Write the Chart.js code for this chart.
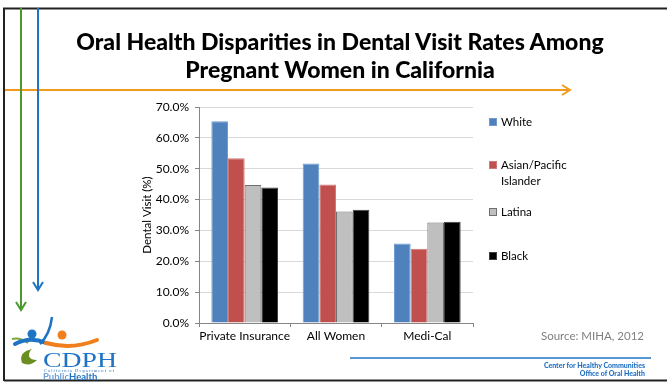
<!DOCTYPE html>
<html>
<head>
<meta charset="utf-8">
<script src="https://cdn.jsdelivr.net/npm/chart.js@4.4.1/dist/chart.umd.min.js"></script>
<style>
  html, body { margin: 0; padding: 0; background: #fff; }
  #slide { position: relative; width: 667px; height: 382px; overflow: hidden; font-family: Lato, "Open Sans", sans-serif; }
  #chart { position: absolute; left: 0; top: 0; }
  #title { position: absolute; left: 30px; width: 620px; top: 27px; text-align: center; font-weight: 900; font-size: 23px; line-height: 28px; color: #000; }
  #legend { position: absolute; left: 489px; top: 0; font-size: 11.5px; color: #000; }
  .leg { position: absolute; width: 110px; line-height: 16px; padding-left: 12px; }
  .leg i { position: absolute; left: 0; top: 4px; width: 8px; height: 8px; box-sizing: border-box; }
  #source { position: absolute; right: 23px; top: 329px; font-size: 11.5px; color: #808080; }
  #footer { position: absolute; right: 22px; top: 361px; font-size: 7px; font-weight: 900; color: #1f6fc1; text-align: right; line-height: 8px; }
  svg { position: absolute; left: 0; top: 0; }
</style>
</head>
<body>
<div id="slide">
  <canvas id="chart" width="667" height="382"></canvas>
  <svg width="667" height="382">
    <path d="M4 381 L4 8.5 L672 8.5" fill="none" stroke="#222" stroke-width="2"/>
    <line x1="4" y1="380.5" x2="672" y2="380.5" stroke="#222" stroke-width="2"/>
    <line x1="5" y1="90" x2="568" y2="90" stroke="#f39a1c" stroke-width="2"/>
    <polyline points="562,85 570,90 562,95" fill="none" stroke="#f39a1c" stroke-width="2"/>
    <line x1="21" y1="8" x2="21" y2="309" stroke="#4a9a2f" stroke-width="2"/>
    <polyline points="16,302 21,310 26,302" fill="none" stroke="#4a9a2f" stroke-width="2"/>
    <line x1="38" y1="8" x2="38" y2="289" stroke="#1f73c4" stroke-width="2"/>
    <polyline points="33,282 38,290 43,282" fill="none" stroke="#1f73c4" stroke-width="2"/>
    <line x1="350" y1="358" x2="651" y2="358" stroke="#1f73c4" stroke-width="1.5"/>
    <!-- logo -->
    <path d="M12 339 Q20 337 28 343" fill="none" stroke="#7aa63a" stroke-width="2"/>
    <circle cx="32" cy="334" r="4.5" fill="#1f73c4"/>
    <path d="M15 344 Q30 336 46 343" fill="none" stroke="#1f73c4" stroke-width="4" stroke-linecap="round"/>
    <path d="M52 317 Q50 334 40 344" fill="none" stroke="#1f73c4" stroke-width="2.5"/>
    <circle cx="62" cy="335" r="4.5" fill="#f07f1c"/>
    <path d="M46 343 Q72 350 97 340" fill="none" stroke="#f07f1c" stroke-width="4" stroke-linecap="round"/>
    <path d="M32 349 Q18 352 22 363 Q30 367 37 360 Q30 360 29 356 Q29 351 32 349 Z" fill="#6b8e23"/>
    <text x="43" y="367" font-family="Liberation Serif, serif" font-size="22" fill="#1f73c4" textLength="74" lengthAdjust="spacingAndGlyphs">CDPH</text>
    <text x="44" y="372" font-family="Liberation Serif, serif" font-size="4.5" fill="#1f73c4" textLength="70">California Department of</text>
    <text x="43" y="380" font-family="Lato, sans-serif" font-size="9.5" font-weight="bold" fill="#6fa0d8">Public<tspan fill="#1f73c4">Health</tspan></text>
  </svg>
  <div id="title">Oral Health Disparities in Dental Visit Rates Among<br>Pregnant Women in California</div>
  <div id="legend"></div>
  <div id="source">Source: MIHA, 2012</div>
  <div id="footer">Center for Healthy Communities<br>Office of Oral Health</div>
</div>
<script>
// data
var categories = ['Private Insurance', 'All Women', 'Medi-Cal'];
var groups = ['White', 'Asian/Pacific Islander', 'Latina', 'Black'];
var white = [65.4, 51.7, 25.8];
var asian = [53.4, 44.9, 24.1];
var latina = [44.7, 36.1, 32.6];
var black = [43.9, 36.7, 32.8];
var yTicks = [0, 10, 20, 30, 40, 50, 60, 70];

var fills = ['#4f81bd', '#c0504d', '#bfbfbf', '#000000'];
var edges = ['#6f9bd0', '#d07a78', '#6f6f6f', '#404040'];
var series = [white, asian, latina, black];

var datasets = groups.map(function (g, i) {
    return {
        label: g,
        data: series[i],
        backgroundColor: fills[i],
        borderColor: edges[i],
        borderWidth: 1,
        categoryPercentage: 0.73,
        barPercentage: 1.0
    };
});

// legend, laid out like the office chart
var legendTops = [114, 157, 204, 248];
var legendHtml = '';
groups.forEach(function (g, i) {
    var label = g === 'Asian/Pacific Islander' ? 'Asian/Pacific<br>Islander' : g;
    legendHtml += '<div class="leg" style="top:' + legendTops[i] + 'px"><i style="background:' + fills[i] +
        ';border:1px solid ' + edges[i] + '"></i>' + label + '</div>';
});
document.getElementById('legend').innerHTML = legendHtml;

var tickFont = { family: 'Lato', size: 12 };

new Chart(document.getElementById('chart'), {
    type: 'bar',
    data: { labels: categories, datasets: datasets },
    options: {
        responsive: false,
        animation: false,
        layout: { padding: { left: 140, right: 194, top: 107, bottom: 39 } },
        plugins: { legend: { display: false }, tooltip: { enabled: false } },
        scales: {
            x: {
                grid: { offset: true, drawOnChartArea: false, color: '#868686', tickLength: 4 },
                border: { color: '#868686' },
                ticks: { color: '#000', font: tickFont, padding: 2, maxRotation: 0, minRotation: 0, autoSkip: false },
                afterFit: function (s) { s.height = 20; }
            },
            y: {
                min: 0,
                max: 70,
                afterBuildTicks: function (s) { s.ticks = yTicks.map(function (v) { return { value: v }; }); },
                grid: { color: '#d9d9d9', tickLength: 4, tickColor: '#868686' },
                border: { color: '#868686' },
                ticks: { color: '#000', font: tickFont, padding: 6, callback: function (v) { return v.toFixed(1) + '%'; } },
                title: { display: true, text: 'Dental Visit (%)', color: '#000', font: { family: 'Lato', size: 11.5 }, padding: 0 },
                afterFit: function (s) { s.width = 59; }
            }
        }
    }
});
</script>
</body>
</html>
